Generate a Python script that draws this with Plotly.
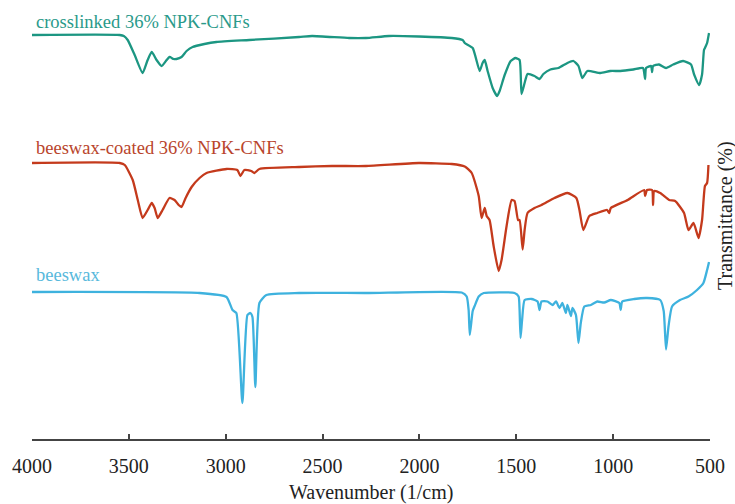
import plotly.graph_objects as go

# ---- data (wavenumber in 1/cm, offset transmittance in arbitrary units) ----
crosslinked_wn = [4000, 3547, 3526, 3506, 3470, 3429, 3403, 3382, 3357, 3331, 3305, 3290, 3269, 3254, 3228,
                  3202, 3171, 3110, 3048, 2878, 2621, 2554, 2363, 2276, 2157, 2003, 1833, 1777, 1766, 1725,
                  1689, 1674, 1663, 1648, 1622, 1599, 1586, 1560, 1529, 1504, 1483, 1473, 1457, 1442, 1406,
                  1380, 1360, 1324, 1282, 1236, 1205, 1179, 1159, 1133, 1066, 1015, 963, 896, 846, 835, 830,
                  804, 799, 794, 763, 727, 690, 639, 598, 582, 556, 541, 531, 526, 515, 505]
crosslinked_t = [404, 404, 403, 399, 384, 366, 379, 387, 379, 373, 379, 382, 380, 380, 382,
                 388, 392, 395, 397, 399, 402, 403, 401, 401, 403, 402.5, 401, 399, 396, 391,
                 368, 376, 379, 368, 351, 343, 348, 364, 378, 381, 379, 345, 356, 365, 363,
                 360, 365, 369.5, 371, 376, 378, 373, 361, 368, 366, 368, 368, 369.5, 371, 360, 371,
                 373, 367, 373, 374.5, 371, 374.5, 378, 374.5, 364.5, 354, 364.5, 389, 391, 396, 406]

coated_wn = [4000, 3547, 3521, 3480, 3454, 3429, 3403, 3382, 3367, 3351, 3326, 3290, 3264, 3243, 3228,
             3207, 3176, 3135, 3099, 2996, 2940, 2924, 2904, 2868, 2852, 2826, 2621, 2451, 2276, 2003,
             1833, 1766, 1730, 1694, 1679, 1663, 1653, 1638, 1617, 1591, 1576, 1550, 1524, 1509, 1491,
             1483, 1467, 1457, 1442, 1406, 1370, 1303, 1236, 1190, 1174, 1154, 1123, 1082, 1031, 1020,
             1012, 925, 840, 835, 825, 799, 794, 788, 757, 711, 680, 634, 611, 585, 559, 541, 526, 515, 508]
coated_t = [276, 276, 274, 259, 239, 221, 229, 236, 231, 221, 229, 241, 239, 234, 232,
            241, 252, 261, 266, 270, 269, 263, 269, 268, 266, 270, 272, 273, 273, 276,
            275, 272.5, 266, 243, 221, 231, 223, 219, 193, 168, 179, 213, 239, 238, 219,
            219, 189.5, 209, 226, 231, 234, 241, 246, 241, 229, 209, 223, 226, 229, 226,
            231, 239, 249, 243, 249, 249, 234, 248, 246, 239, 238, 226, 209, 216, 201, 219, 253, 256, 274]

beeswax_wn = [4000, 3135, 2996, 2965, 2945, 2914, 2888, 2873, 2862, 2847, 2826, 2790, 2621, 2276, 1782,
              1756, 1746, 1740, 1725, 1715, 1694, 1668, 1509, 1488, 1483, 1478, 1470, 1457, 1421, 1390,
              1380, 1370, 1339, 1313, 1295, 1277, 1262, 1244, 1236, 1218, 1210, 1192, 1179, 1167, 1149,
              1115, 1082, 1046, 1012, 968, 961, 953, 891, 825, 757, 739, 727, 714, 696, 655, 611, 567,
              534, 515, 505]
beeswax_t = [147, 146, 142, 129, 126, 36, 124, 126, 122, 52, 136, 144, 146, 146, 146.5,
             142.5, 129, 104, 128, 133, 142.5, 146, 146, 142.5, 129, 101, 119, 139, 140, 137.5,
             129, 137.5, 137.5, 134, 137.5, 131, 136, 126, 134, 123, 131, 124, 96, 116, 132.5,
             134, 137.5, 136.5, 139, 136, 129, 137.5, 140, 141, 139, 128, 89.5, 113, 132.5, 139, 142.5, 149,
             156, 169, 177]

series_names = ["crosslinked 36% NPK-CNFs", "beeswax-coated 36% NPK-CNFs", "beeswax"]
series_wn = [crosslinked_wn, coated_wn, beeswax_wn]
series_t = [crosslinked_t, coated_t, beeswax_t]
line_colors = ["#1c9682", "#c43a1c", "#3eb2de"]
label_colors = ["#2a9a8a", "#b9452c", "#58b9dc"]
label_y = [417, 291, 164]

x_ticks = [4000, 3500, 3000, 2500, 2000, 1500, 1000, 500]

FONT = "Liberation Serif, Times New Roman, serif"

fig = go.Figure()
for name, wn, t, col in zip(series_names, series_wn, series_t, line_colors):
    fig.add_trace(go.Scatter(x=wn, y=t, mode="lines", name=name,
                             line=dict(color=col, width=2.3, shape="spline", smoothing=0.5),
                             showlegend=False))

annotations = []
for name, y, col in zip(series_names, label_y, label_colors):
    annotations.append(dict(x=3990, y=y, xref="x", yref="y", text=name, showarrow=False,
                            xanchor="left", yanchor="middle",
                            font=dict(family=FONT, size=18.5, color=col)))
annotations.append(dict(x=0.5, y=-0.125, xref="paper", yref="paper", text="Wavenumber (1/cm)",
                        showarrow=False, xanchor="center", yanchor="middle",
                        font=dict(family=FONT, size=20, color="#222222")))
annotations.append(dict(x=1.022, y=0.522, xref="paper", yref="paper", text="Transmittance (%)",
                        showarrow=False, textangle=-90, xanchor="center", yanchor="middle",
                        font=dict(family=FONT, size=20, color="#222222")))

fig.update_layout(
    width=735, height=504,
    margin=dict(l=32, r=23, t=10, b=65),
    paper_bgcolor="white", plot_bgcolor="white",
    annotations=annotations,
    xaxis=dict(range=[4000, 500], tickvals=x_ticks, ticktext=[str(v) for v in x_ticks],
               showgrid=False, zeroline=False, showline=True, linecolor="#444444", linewidth=1.5,
               ticks="inside", ticklen=5, tickwidth=1.5, tickcolor="#444444",
               ticklabelstandoff=8,
               tickfont=dict(family=FONT, size=20, color="#222222")),
    yaxis=dict(range=[0, 429], visible=False, showgrid=False, zeroline=False),
)

fig.write_html("out.html")
